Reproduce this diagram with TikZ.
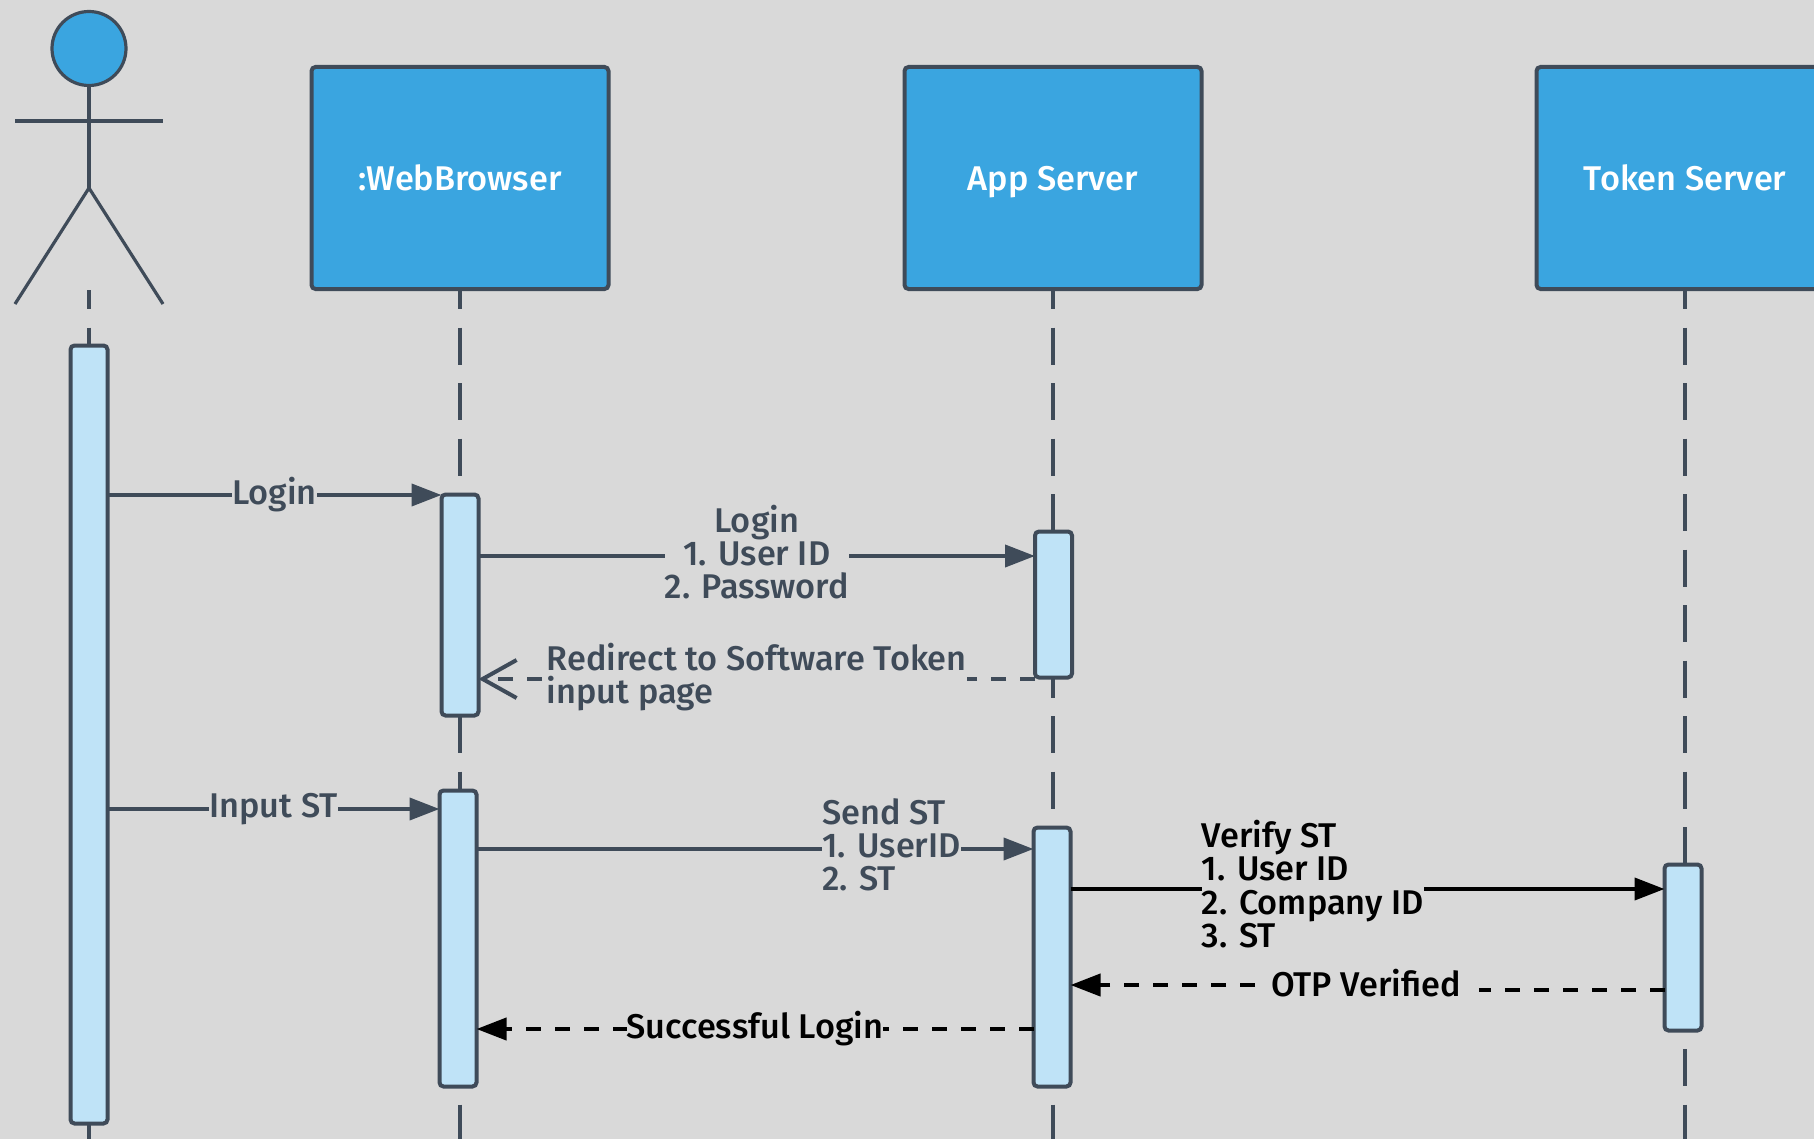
\documentclass[tikz,border=0pt]{standalone}
\usepackage{fontspec}
\setmainfont{Fira Sans Medium}
\usetikzlibrary{arrows.meta}
\definecolor{canvas}{HTML}{D9D9D9}
\definecolor{boxblue}{HTML}{3AA5E0}
\definecolor{barblue}{HTML}{BFE3F7}
\definecolor{slate}{HTML}{3F4B59}

\begin{document}
\begin{tikzpicture}[
    x=0.5pt,
    y=-0.5pt,
    line width=2pt,
    every node/.style={font=\fontsize{17.15}{16.6}\selectfont},
    party/.style={
      rectangle,
      draw=slate,
      line width=2pt,
      fill=boxblue,
      rounded corners=2pt,
      minimum width=148.5pt,
      minimum height=111pt,
      text height=13.5pt,
      text depth=1pt,
      text=white
    },
    bar/.style={
      rectangle,
      draw=slate,
      line width=2pt,
      fill=barblue,
      rounded corners=2pt,
      outer sep=0pt,
      minimum width=18.5pt
    },
    figure/.style={draw=slate,line width=1.6pt},
    lifeline/.style={draw=slate,line width=1.6pt,dash pattern=on 18.5pt off 9.25pt,dash phase=9pt},
    msg/.style={-{Triangle[length=15pt,width=11pt]}},
    reply/.style={dash pattern=on 7.5pt off 7pt},
    msglabel/.style={fill=canvas,inner xsep=0pt,inner ysep=0pt,align=left}]

    \fill[canvas] (0,0) rectangle (1814,1139);
    \useasboundingbox (0,0) rectangle (1814,1139);
    \clip (0,0) rectangle (1814,1139);

    % The actor figure.
    \node[circle,figure,fill=boxblue,minimum size=37pt,inner sep=0pt] (head) at (89,48.5) {};
    \coordinate (hip) at (89,188);
    \coordinate (lhand) at (15,121);
    \coordinate (rhand) at (163,121);
    \coordinate (lfoot) at (15,304);
    \coordinate (rfoot) at (163,304);
    \coordinate (actortop) at (89,290);
    \draw[figure] (head) -- (hip);
    \draw[figure] (lhand) -- (rhand);
    \draw[figure] (lfoot) -- (hip) -- (rfoot);

    % The three servers along the top.
    \node[party] (web) at (460,178) {:WebBrowser};
    \node[party] (app) at (1053,178) {App Server};
    \node[party] (tok) at (1685,178) {Token Server};

    % Lifelines run off the bottom edge.
    \coordinate (actorend) at (89,1139);
    \draw[lifeline] (actortop) -- (actorend);
    \draw[lifeline] (web.south |- actortop) -- (web.south |- actorend);
    \draw[lifeline] (app.south |- actortop) -- (app.south |- actorend);
    \draw[lifeline] (tok.south |- actortop) -- (tok.south |- actorend);

    % Activation bars.
    \node[bar,minimum height=389pt] (actorbar) at (89,734.5) {};
    \node[bar,minimum height=110.5pt] (webbar1) at (460,605) {};
    \node[bar,minimum height=148pt] (webbar2) at (458,938.5) {};
    \node[bar,minimum height=73pt] (appbar1) at (1053.5,604.5) {};
    \node[bar,minimum height=129.5pt] (appbar2) at (1052,957) {};
    \node[bar,minimum height=83pt] (tokbar) at (1683,947.5) {};

    % First round: login and redirect.
    \draw[slate,msg] (actorbar.east |- 0,495) --
      node[msglabel,text=slate] (login) {Login} (webbar1.west |- 0,495);
    \draw[slate,msg] (webbar1.east |- 0,556) --
      node[msglabel,text=slate,align=center,yshift=2pt] (creds) {Login\\1. User ID\\2. Password}
      (appbar1.west |- 0,556);
    \draw[slate,reply,-{Straight Barb[length=17pt,width=19pt]}]
      (appbar1.west |- 0,679) --
      node[msglabel,text=slate,yshift=1pt] (redirect) {Redirect to Software Token\\input page}
      (webbar1.east |- 0,679);

    % Second round: token check.
    \draw[slate,msg] (actorbar.east |- 0,809) --
      node[msglabel,text=slate] (input) {Input ST} (webbar2.west |- 0,809);
    \draw[slate,msg] (webbar2.east |- 0,849) --
      node[msglabel,text=slate,pos=0.745,yshift=2pt] (send) {Send ST\\1. UserID\\2. ST}
      (appbar2.west |- 0,849);
    \draw[black,msg] (appbar2.east |- 0,889) --
      node[msglabel,text=black,pos=0.408,yshift=2.5pt] (verify) {Verify ST\\1. User ID\\2. Company ID\\3. ST}
      (tokbar.west |- 0,889);
    \node[msglabel,text=black] (otp) at (1366,983) {OTP Verified};
    \draw[black,reply] (tokbar.west |- 0,990) -- ([xshift=8pt] otp.east |- 0,990);
    \draw[black,reply,msg] ([xshift=-7pt] otp.west |- 0,985) -- (appbar2.east |- 0,985);
    \draw[black,reply,msg] (appbar2.west |- 0,1029) --
      node[msglabel,text=black] (success) {Successful Login} (webbar2.east |- 0,1029);
  \end{tikzpicture}
\end{document}
